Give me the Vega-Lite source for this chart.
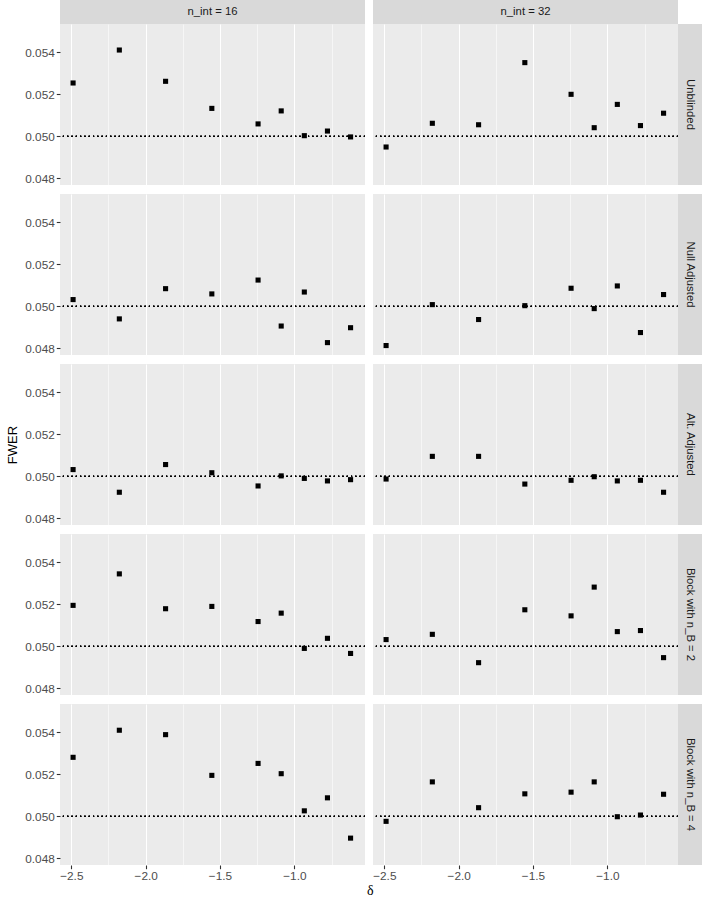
{
"$schema": "https://vega.github.io/schema/vega-lite/v6.json",
"background": "white",
"padding": {"left": 6, "top": 0, "right": 0, "bottom": 0},
"data": {"values": [
{"method":"Unblinded","n_int":16,"delta":-2.488,"fwer":0.05254},
{"method":"Unblinded","n_int":16,"delta":-2.177,"fwer":0.05411},
{"method":"Unblinded","n_int":16,"delta":-1.866,"fwer":0.05262},
{"method":"Unblinded","n_int":16,"delta":-1.555,"fwer":0.05133},
{"method":"Unblinded","n_int":16,"delta":-1.244,"fwer":0.05059},
{"method":"Unblinded","n_int":16,"delta":-1.0885,"fwer":0.05121},
{"method":"Unblinded","n_int":16,"delta":-0.933,"fwer":0.05003},
{"method":"Unblinded","n_int":16,"delta":-0.7775,"fwer":0.05025},
{"method":"Unblinded","n_int":16,"delta":-0.622,"fwer":0.04997},
{"method":"Unblinded","n_int":32,"delta":-2.488,"fwer":0.04949},
{"method":"Unblinded","n_int":32,"delta":-2.177,"fwer":0.05062},
{"method":"Unblinded","n_int":32,"delta":-1.866,"fwer":0.05055},
{"method":"Unblinded","n_int":32,"delta":-1.555,"fwer":0.05351},
{"method":"Unblinded","n_int":32,"delta":-1.244,"fwer":0.05200},
{"method":"Unblinded","n_int":32,"delta":-1.0885,"fwer":0.05041},
{"method":"Unblinded","n_int":32,"delta":-0.933,"fwer":0.05152},
{"method":"Unblinded","n_int":32,"delta":-0.7775,"fwer":0.05051},
{"method":"Unblinded","n_int":32,"delta":-0.622,"fwer":0.05110},
{"method":"Null Adjusted","n_int":16,"delta":-2.488,"fwer":0.05032},
{"method":"Null Adjusted","n_int":16,"delta":-2.177,"fwer":0.04940},
{"method":"Null Adjusted","n_int":16,"delta":-1.866,"fwer":0.05084},
{"method":"Null Adjusted","n_int":16,"delta":-1.555,"fwer":0.05059},
{"method":"Null Adjusted","n_int":16,"delta":-1.244,"fwer":0.05125},
{"method":"Null Adjusted","n_int":16,"delta":-1.0885,"fwer":0.04906},
{"method":"Null Adjusted","n_int":16,"delta":-0.933,"fwer":0.05068},
{"method":"Null Adjusted","n_int":16,"delta":-0.7775,"fwer":0.04827},
{"method":"Null Adjusted","n_int":16,"delta":-0.622,"fwer":0.04898},
{"method":"Null Adjusted","n_int":32,"delta":-2.488,"fwer":0.04813},
{"method":"Null Adjusted","n_int":32,"delta":-2.177,"fwer":0.05008},
{"method":"Null Adjusted","n_int":32,"delta":-1.866,"fwer":0.04937},
{"method":"Null Adjusted","n_int":32,"delta":-1.555,"fwer":0.05003},
{"method":"Null Adjusted","n_int":32,"delta":-1.244,"fwer":0.05086},
{"method":"Null Adjusted","n_int":32,"delta":-1.0885,"fwer":0.04989},
{"method":"Null Adjusted","n_int":32,"delta":-0.933,"fwer":0.05097},
{"method":"Null Adjusted","n_int":32,"delta":-0.7775,"fwer":0.04875},
{"method":"Null Adjusted","n_int":32,"delta":-0.622,"fwer":0.05056},
{"method":"Alt. Adjusted","n_int":16,"delta":-2.488,"fwer":0.05032},
{"method":"Alt. Adjusted","n_int":16,"delta":-2.177,"fwer":0.04924},
{"method":"Alt. Adjusted","n_int":16,"delta":-1.866,"fwer":0.05056},
{"method":"Alt. Adjusted","n_int":16,"delta":-1.555,"fwer":0.05017},
{"method":"Alt. Adjusted","n_int":16,"delta":-1.244,"fwer":0.04954},
{"method":"Alt. Adjusted","n_int":16,"delta":-1.0885,"fwer":0.05002},
{"method":"Alt. Adjusted","n_int":16,"delta":-0.933,"fwer":0.04990},
{"method":"Alt. Adjusted","n_int":16,"delta":-0.7775,"fwer":0.04978},
{"method":"Alt. Adjusted","n_int":16,"delta":-0.622,"fwer":0.04984},
{"method":"Alt. Adjusted","n_int":32,"delta":-2.488,"fwer":0.04987},
{"method":"Alt. Adjusted","n_int":32,"delta":-2.177,"fwer":0.05095},
{"method":"Alt. Adjusted","n_int":32,"delta":-1.866,"fwer":0.05095},
{"method":"Alt. Adjusted","n_int":32,"delta":-1.555,"fwer":0.04963},
{"method":"Alt. Adjusted","n_int":32,"delta":-1.244,"fwer":0.04981},
{"method":"Alt. Adjusted","n_int":32,"delta":-1.0885,"fwer":0.04998},
{"method":"Alt. Adjusted","n_int":32,"delta":-0.933,"fwer":0.04978},
{"method":"Alt. Adjusted","n_int":32,"delta":-0.7775,"fwer":0.04981},
{"method":"Alt. Adjusted","n_int":32,"delta":-0.622,"fwer":0.04924},
{"method":"Block with n_B = 2","n_int":16,"delta":-2.488,"fwer":0.05195},
{"method":"Block with n_B = 2","n_int":16,"delta":-2.177,"fwer":0.05345},
{"method":"Block with n_B = 2","n_int":16,"delta":-1.866,"fwer":0.05179},
{"method":"Block with n_B = 2","n_int":16,"delta":-1.555,"fwer":0.05190},
{"method":"Block with n_B = 2","n_int":16,"delta":-1.244,"fwer":0.05118},
{"method":"Block with n_B = 2","n_int":16,"delta":-1.0885,"fwer":0.05158},
{"method":"Block with n_B = 2","n_int":16,"delta":-0.933,"fwer":0.04990},
{"method":"Block with n_B = 2","n_int":16,"delta":-0.7775,"fwer":0.05038},
{"method":"Block with n_B = 2","n_int":16,"delta":-0.622,"fwer":0.04966},
{"method":"Block with n_B = 2","n_int":32,"delta":-2.488,"fwer":0.05032},
{"method":"Block with n_B = 2","n_int":32,"delta":-2.177,"fwer":0.05057},
{"method":"Block with n_B = 2","n_int":32,"delta":-1.866,"fwer":0.04922},
{"method":"Block with n_B = 2","n_int":32,"delta":-1.555,"fwer":0.05174},
{"method":"Block with n_B = 2","n_int":32,"delta":-1.244,"fwer":0.05145},
{"method":"Block with n_B = 2","n_int":32,"delta":-1.0885,"fwer":0.05282},
{"method":"Block with n_B = 2","n_int":32,"delta":-0.933,"fwer":0.05070},
{"method":"Block with n_B = 2","n_int":32,"delta":-0.7775,"fwer":0.05075},
{"method":"Block with n_B = 2","n_int":32,"delta":-0.622,"fwer":0.04946},
{"method":"Block with n_B = 4","n_int":16,"delta":-2.488,"fwer":0.05281},
{"method":"Block with n_B = 4","n_int":16,"delta":-2.177,"fwer":0.05410},
{"method":"Block with n_B = 4","n_int":16,"delta":-1.866,"fwer":0.05389},
{"method":"Block with n_B = 4","n_int":16,"delta":-1.555,"fwer":0.05195},
{"method":"Block with n_B = 4","n_int":16,"delta":-1.244,"fwer":0.05252},
{"method":"Block with n_B = 4","n_int":16,"delta":-1.0885,"fwer":0.05203},
{"method":"Block with n_B = 4","n_int":16,"delta":-0.933,"fwer":0.05026},
{"method":"Block with n_B = 4","n_int":16,"delta":-0.7775,"fwer":0.05088},
{"method":"Block with n_B = 4","n_int":16,"delta":-0.622,"fwer":0.04896},
{"method":"Block with n_B = 4","n_int":32,"delta":-2.488,"fwer":0.04976},
{"method":"Block with n_B = 4","n_int":32,"delta":-2.177,"fwer":0.05164},
{"method":"Block with n_B = 4","n_int":32,"delta":-1.866,"fwer":0.05041},
{"method":"Block with n_B = 4","n_int":32,"delta":-1.555,"fwer":0.05107},
{"method":"Block with n_B = 4","n_int":32,"delta":-1.244,"fwer":0.05115},
{"method":"Block with n_B = 4","n_int":32,"delta":-1.0885,"fwer":0.05164},
{"method":"Block with n_B = 4","n_int":32,"delta":-0.933,"fwer":0.04998},
{"method":"Block with n_B = 4","n_int":32,"delta":-0.7775,"fwer":0.05006},
{"method":"Block with n_B = 4","n_int":32,"delta":-0.622,"fwer":0.05105}
]},
"config": {
  "view": {"fill": "#ebebeb", "stroke": null},
  "font": "Liberation Sans",
  "axis": {"gridColor": "#ffffff", "domain": false, "tickColor": "#333333", "tickSize": 3.7, "tickWidth": 1.1, "labelColor": "#4d4d4d", "labelFont": "Liberation Sans", "labelFontSize": 11.8, "labelPadding": 2, "labelFlush": false, "labelOverlap": false, "labelBound": false, "titleFont": "Liberation Sans", "titleFontSize": 13, "titleFontWeight": "normal", "titleColor": "#000000", "titlePadding": 5}
},
"title": {"text": "δ", "orient": "bottom", "anchor": "middle", "dx": 16, "font": "Liberation Serif", "fontSize": 14, "fontWeight": "normal", "color": "#000000", "offset": 1},
"columns": 4,
"align": "each",
"bounds": "flush",
"spacing": 0,
"concat": [
  {"width": 305, "height": 24, "view": {"fill": "#d9d9d9", "stroke": null}, "data": {"values": [{"label": "n_int = 16"}]}, "mark": {"type": "text", "color": "#1a1a1a", "fontSize": 11.3, "font": "Liberation Sans"}, "encoding": {"text": {"field": "label", "type": "nominal"}}},
  {"width": 8, "height": 8.7, "view": {"fill": null, "stroke": null}, "data": {"values": []}, "mark": {"type": "text"}, "encoding": {}},
  {"width": 305, "height": 24, "view": {"fill": "#d9d9d9", "stroke": null}, "data": {"values": [{"label": "n_int = 32"}]}, "mark": {"type": "text", "color": "#1a1a1a", "fontSize": 11.3, "font": "Liberation Sans"}, "encoding": {"text": {"field": "label", "type": "nominal"}}},
  {"width": 8, "height": 8.7, "view": {"fill": null, "stroke": null}, "data": {"values": []}, "mark": {"type": "text"}, "encoding": {}},

  {"width": 305, "height": 161, "transform": [{"filter": "datum.method === 'Unblinded' && datum.n_int === 16"}],
   "layer": [
    {"mark": {"type": "rule", "color": "black", "strokeDash": [1.1, 3.2], "strokeWidth": 1}, "encoding": {"y": {"datum": 0.05, "type": "quantitative", "scale": {"domain": [0.04768, 0.05535], "nice": false, "zero": false}, "axis": {"values": [0.048, 0.049, 0.05, 0.051, 0.052, 0.053, 0.054, 0.055], "title": null, "labelExpr": "indexof([0.048,0.05,0.052,0.054], datum.value) >= 0 ? format(datum.value, '.3f') : ''", "gridWidth": {"condition": {"test": "indexof([0.048,0.05,0.052,0.054], datum.value) >= 0", "value": 1.1}, "value": 0.55}, "tickOpacity": {"condition": {"test": "indexof([0.048,0.05,0.052,0.054], datum.value) >= 0", "value": 1}, "value": 0}}}}},
    {"mark": {"type": "point", "shape": "square", "filled": true, "color": "black", "size": 26, "opacity": 1},
     "encoding": {
      "x": {"field": "delta", "type": "quantitative", "scale": {"domain": [-2.576, -0.525], "nice": false, "zero": false}, "axis": {"values": [-2.5, -2.25, -2, -1.75, -1.5, -1.25, -1, -0.75], "labels": false, "ticks": false, "title": null, "gridWidth": {"condition": {"test": "indexof([-2.5,-2,-1.5,-1], datum.value) >= 0", "value": 1.1}, "value": 0.55}}},
      "y": {"field": "fwer", "type": "quantitative", "scale": {"domain": [0.04768, 0.05535], "nice": false, "zero": false}, "axis": {"values": [0.048, 0.049, 0.05, 0.051, 0.052, 0.053, 0.054, 0.055], "title": null, "labelExpr": "indexof([0.048,0.05,0.052,0.054], datum.value) >= 0 ? format(datum.value, '.3f') : ''", "gridWidth": {"condition": {"test": "indexof([0.048,0.05,0.052,0.054], datum.value) >= 0", "value": 1.1}, "value": 0.55}, "tickOpacity": {"condition": {"test": "indexof([0.048,0.05,0.052,0.054], datum.value) >= 0", "value": 1}, "value": 0}}}
     }}
   ]},
  {"width": 8, "height": 8.7, "view": {"fill": null, "stroke": null}, "data": {"values": []}, "mark": {"type": "text"}, "encoding": {}},
  {"width": 305, "height": 161, "transform": [{"filter": "datum.method === 'Unblinded' && datum.n_int === 32"}],
   "layer": [
    {"mark": {"type": "rule", "color": "black", "strokeDash": [1.1, 3.2], "strokeWidth": 1}, "encoding": {"y": {"datum": 0.05, "type": "quantitative", "scale": {"domain": [0.04768, 0.05535], "nice": false, "zero": false}, "axis": {"values": [0.048, 0.049, 0.05, 0.051, 0.052, 0.053, 0.054, 0.055], "title": null, "labels": false, "ticks": false, "gridWidth": {"condition": {"test": "indexof([0.048,0.05,0.052,0.054], datum.value) >= 0", "value": 1.1}, "value": 0.55}}}}},
    {"mark": {"type": "point", "shape": "square", "filled": true, "color": "black", "size": 26, "opacity": 1},
     "encoding": {
      "x": {"field": "delta", "type": "quantitative", "scale": {"domain": [-2.576, -0.525], "nice": false, "zero": false}, "axis": {"values": [-2.5, -2.25, -2, -1.75, -1.5, -1.25, -1, -0.75], "labels": false, "ticks": false, "title": null, "gridWidth": {"condition": {"test": "indexof([-2.5,-2,-1.5,-1], datum.value) >= 0", "value": 1.1}, "value": 0.55}}},
      "y": {"field": "fwer", "type": "quantitative", "scale": {"domain": [0.04768, 0.05535], "nice": false, "zero": false}, "axis": {"values": [0.048, 0.049, 0.05, 0.051, 0.052, 0.053, 0.054, 0.055], "title": null, "labels": false, "ticks": false, "gridWidth": {"condition": {"test": "indexof([0.048,0.05,0.052,0.054], datum.value) >= 0", "value": 1.1}, "value": 0.55}}}
     }}
   ]},
  {"width": 24, "height": 161, "view": {"fill": "#d9d9d9", "stroke": null}, "data": {"values": [{"label": "Unblinded"}]}, "mark": {"type": "text", "angle": 90, "color": "#1a1a1a", "fontSize": 11.3, "font": "Liberation Sans"}, "encoding": {"text": {"field": "label", "type": "nominal"}}},

  {"width": 8, "height": 8.7, "view": {"fill": null, "stroke": null}, "data": {"values": []}, "mark": {"type": "text"}, "encoding": {}},
  {"width": 8, "height": 8.7, "view": {"fill": null, "stroke": null}, "data": {"values": []}, "mark": {"type": "text"}, "encoding": {}},
  {"width": 8, "height": 8.7, "view": {"fill": null, "stroke": null}, "data": {"values": []}, "mark": {"type": "text"}, "encoding": {}},
  {"width": 8, "height": 8.7, "view": {"fill": null, "stroke": null}, "data": {"values": []}, "mark": {"type": "text"}, "encoding": {}},

  {"width": 305, "height": 161, "transform": [{"filter": "datum.method === 'Null Adjusted' && datum.n_int === 16"}],
   "layer": [
    {"mark": {"type": "rule", "color": "black", "strokeDash": [1.1, 3.2], "strokeWidth": 1}, "encoding": {"y": {"datum": 0.05, "type": "quantitative", "scale": {"domain": [0.04768, 0.05535], "nice": false, "zero": false}, "axis": {"values": [0.048, 0.049, 0.05, 0.051, 0.052, 0.053, 0.054, 0.055], "title": null, "labelExpr": "indexof([0.048,0.05,0.052,0.054], datum.value) >= 0 ? format(datum.value, '.3f') : ''", "gridWidth": {"condition": {"test": "indexof([0.048,0.05,0.052,0.054], datum.value) >= 0", "value": 1.1}, "value": 0.55}, "tickOpacity": {"condition": {"test": "indexof([0.048,0.05,0.052,0.054], datum.value) >= 0", "value": 1}, "value": 0}}}}},
    {"mark": {"type": "point", "shape": "square", "filled": true, "color": "black", "size": 26, "opacity": 1},
     "encoding": {
      "x": {"field": "delta", "type": "quantitative", "scale": {"domain": [-2.576, -0.525], "nice": false, "zero": false}, "axis": {"values": [-2.5, -2.25, -2, -1.75, -1.5, -1.25, -1, -0.75], "labels": false, "ticks": false, "title": null, "gridWidth": {"condition": {"test": "indexof([-2.5,-2,-1.5,-1], datum.value) >= 0", "value": 1.1}, "value": 0.55}}},
      "y": {"field": "fwer", "type": "quantitative", "scale": {"domain": [0.04768, 0.05535], "nice": false, "zero": false}, "axis": {"values": [0.048, 0.049, 0.05, 0.051, 0.052, 0.053, 0.054, 0.055], "title": null, "labelExpr": "indexof([0.048,0.05,0.052,0.054], datum.value) >= 0 ? format(datum.value, '.3f') : ''", "gridWidth": {"condition": {"test": "indexof([0.048,0.05,0.052,0.054], datum.value) >= 0", "value": 1.1}, "value": 0.55}, "tickOpacity": {"condition": {"test": "indexof([0.048,0.05,0.052,0.054], datum.value) >= 0", "value": 1}, "value": 0}}}
     }}
   ]},
  {"width": 8, "height": 8.7, "view": {"fill": null, "stroke": null}, "data": {"values": []}, "mark": {"type": "text"}, "encoding": {}},
  {"width": 305, "height": 161, "transform": [{"filter": "datum.method === 'Null Adjusted' && datum.n_int === 32"}],
   "layer": [
    {"mark": {"type": "rule", "color": "black", "strokeDash": [1.1, 3.2], "strokeWidth": 1}, "encoding": {"y": {"datum": 0.05, "type": "quantitative", "scale": {"domain": [0.04768, 0.05535], "nice": false, "zero": false}, "axis": {"values": [0.048, 0.049, 0.05, 0.051, 0.052, 0.053, 0.054, 0.055], "title": null, "labels": false, "ticks": false, "gridWidth": {"condition": {"test": "indexof([0.048,0.05,0.052,0.054], datum.value) >= 0", "value": 1.1}, "value": 0.55}}}}},
    {"mark": {"type": "point", "shape": "square", "filled": true, "color": "black", "size": 26, "opacity": 1},
     "encoding": {
      "x": {"field": "delta", "type": "quantitative", "scale": {"domain": [-2.576, -0.525], "nice": false, "zero": false}, "axis": {"values": [-2.5, -2.25, -2, -1.75, -1.5, -1.25, -1, -0.75], "labels": false, "ticks": false, "title": null, "gridWidth": {"condition": {"test": "indexof([-2.5,-2,-1.5,-1], datum.value) >= 0", "value": 1.1}, "value": 0.55}}},
      "y": {"field": "fwer", "type": "quantitative", "scale": {"domain": [0.04768, 0.05535], "nice": false, "zero": false}, "axis": {"values": [0.048, 0.049, 0.05, 0.051, 0.052, 0.053, 0.054, 0.055], "title": null, "labels": false, "ticks": false, "gridWidth": {"condition": {"test": "indexof([0.048,0.05,0.052,0.054], datum.value) >= 0", "value": 1.1}, "value": 0.55}}}
     }}
   ]},
  {"width": 24, "height": 161, "view": {"fill": "#d9d9d9", "stroke": null}, "data": {"values": [{"label": "Null Adjusted"}]}, "mark": {"type": "text", "angle": 90, "color": "#1a1a1a", "fontSize": 11.3, "font": "Liberation Sans"}, "encoding": {"text": {"field": "label", "type": "nominal"}}},

  {"width": 8, "height": 8.7, "view": {"fill": null, "stroke": null}, "data": {"values": []}, "mark": {"type": "text"}, "encoding": {}},
  {"width": 8, "height": 8.7, "view": {"fill": null, "stroke": null}, "data": {"values": []}, "mark": {"type": "text"}, "encoding": {}},
  {"width": 8, "height": 8.7, "view": {"fill": null, "stroke": null}, "data": {"values": []}, "mark": {"type": "text"}, "encoding": {}},
  {"width": 8, "height": 8.7, "view": {"fill": null, "stroke": null}, "data": {"values": []}, "mark": {"type": "text"}, "encoding": {}},

  {"width": 305, "height": 161, "transform": [{"filter": "datum.method === 'Alt. Adjusted' && datum.n_int === 16"}],
   "layer": [
    {"mark": {"type": "rule", "color": "black", "strokeDash": [1.1, 3.2], "strokeWidth": 1}, "encoding": {"y": {"datum": 0.05, "type": "quantitative", "scale": {"domain": [0.04768, 0.05535], "nice": false, "zero": false}, "axis": {"values": [0.048, 0.049, 0.05, 0.051, 0.052, 0.053, 0.054, 0.055], "title": "FWER", "labelExpr": "indexof([0.048,0.05,0.052,0.054], datum.value) >= 0 ? format(datum.value, '.3f') : ''", "gridWidth": {"condition": {"test": "indexof([0.048,0.05,0.052,0.054], datum.value) >= 0", "value": 1.1}, "value": 0.55}, "tickOpacity": {"condition": {"test": "indexof([0.048,0.05,0.052,0.054], datum.value) >= 0", "value": 1}, "value": 0}}}}},
    {"mark": {"type": "point", "shape": "square", "filled": true, "color": "black", "size": 26, "opacity": 1},
     "encoding": {
      "x": {"field": "delta", "type": "quantitative", "scale": {"domain": [-2.576, -0.525], "nice": false, "zero": false}, "axis": {"values": [-2.5, -2.25, -2, -1.75, -1.5, -1.25, -1, -0.75], "labels": false, "ticks": false, "title": null, "gridWidth": {"condition": {"test": "indexof([-2.5,-2,-1.5,-1], datum.value) >= 0", "value": 1.1}, "value": 0.55}}},
      "y": {"field": "fwer", "type": "quantitative", "scale": {"domain": [0.04768, 0.05535], "nice": false, "zero": false}, "axis": {"values": [0.048, 0.049, 0.05, 0.051, 0.052, 0.053, 0.054, 0.055], "title": "FWER", "labelExpr": "indexof([0.048,0.05,0.052,0.054], datum.value) >= 0 ? format(datum.value, '.3f') : ''", "gridWidth": {"condition": {"test": "indexof([0.048,0.05,0.052,0.054], datum.value) >= 0", "value": 1.1}, "value": 0.55}, "tickOpacity": {"condition": {"test": "indexof([0.048,0.05,0.052,0.054], datum.value) >= 0", "value": 1}, "value": 0}}}
     }}
   ]},
  {"width": 8, "height": 8.7, "view": {"fill": null, "stroke": null}, "data": {"values": []}, "mark": {"type": "text"}, "encoding": {}},
  {"width": 305, "height": 161, "transform": [{"filter": "datum.method === 'Alt. Adjusted' && datum.n_int === 32"}],
   "layer": [
    {"mark": {"type": "rule", "color": "black", "strokeDash": [1.1, 3.2], "strokeWidth": 1}, "encoding": {"y": {"datum": 0.05, "type": "quantitative", "scale": {"domain": [0.04768, 0.05535], "nice": false, "zero": false}, "axis": {"values": [0.048, 0.049, 0.05, 0.051, 0.052, 0.053, 0.054, 0.055], "title": null, "labels": false, "ticks": false, "gridWidth": {"condition": {"test": "indexof([0.048,0.05,0.052,0.054], datum.value) >= 0", "value": 1.1}, "value": 0.55}}}}},
    {"mark": {"type": "point", "shape": "square", "filled": true, "color": "black", "size": 26, "opacity": 1},
     "encoding": {
      "x": {"field": "delta", "type": "quantitative", "scale": {"domain": [-2.576, -0.525], "nice": false, "zero": false}, "axis": {"values": [-2.5, -2.25, -2, -1.75, -1.5, -1.25, -1, -0.75], "labels": false, "ticks": false, "title": null, "gridWidth": {"condition": {"test": "indexof([-2.5,-2,-1.5,-1], datum.value) >= 0", "value": 1.1}, "value": 0.55}}},
      "y": {"field": "fwer", "type": "quantitative", "scale": {"domain": [0.04768, 0.05535], "nice": false, "zero": false}, "axis": {"values": [0.048, 0.049, 0.05, 0.051, 0.052, 0.053, 0.054, 0.055], "title": null, "labels": false, "ticks": false, "gridWidth": {"condition": {"test": "indexof([0.048,0.05,0.052,0.054], datum.value) >= 0", "value": 1.1}, "value": 0.55}}}
     }}
   ]},
  {"width": 24, "height": 161, "view": {"fill": "#d9d9d9", "stroke": null}, "data": {"values": [{"label": "Alt. Adjusted"}]}, "mark": {"type": "text", "angle": 90, "color": "#1a1a1a", "fontSize": 11.3, "font": "Liberation Sans"}, "encoding": {"text": {"field": "label", "type": "nominal"}}},

  {"width": 8, "height": 8.7, "view": {"fill": null, "stroke": null}, "data": {"values": []}, "mark": {"type": "text"}, "encoding": {}},
  {"width": 8, "height": 8.7, "view": {"fill": null, "stroke": null}, "data": {"values": []}, "mark": {"type": "text"}, "encoding": {}},
  {"width": 8, "height": 8.7, "view": {"fill": null, "stroke": null}, "data": {"values": []}, "mark": {"type": "text"}, "encoding": {}},
  {"width": 8, "height": 8.7, "view": {"fill": null, "stroke": null}, "data": {"values": []}, "mark": {"type": "text"}, "encoding": {}},

  {"width": 305, "height": 161, "transform": [{"filter": "datum.method === 'Block with n_B = 2' && datum.n_int === 16"}],
   "layer": [
    {"mark": {"type": "rule", "color": "black", "strokeDash": [1.1, 3.2], "strokeWidth": 1}, "encoding": {"y": {"datum": 0.05, "type": "quantitative", "scale": {"domain": [0.04768, 0.05535], "nice": false, "zero": false}, "axis": {"values": [0.048, 0.049, 0.05, 0.051, 0.052, 0.053, 0.054, 0.055], "title": null, "labelExpr": "indexof([0.048,0.05,0.052,0.054], datum.value) >= 0 ? format(datum.value, '.3f') : ''", "gridWidth": {"condition": {"test": "indexof([0.048,0.05,0.052,0.054], datum.value) >= 0", "value": 1.1}, "value": 0.55}, "tickOpacity": {"condition": {"test": "indexof([0.048,0.05,0.052,0.054], datum.value) >= 0", "value": 1}, "value": 0}}}}},
    {"mark": {"type": "point", "shape": "square", "filled": true, "color": "black", "size": 26, "opacity": 1},
     "encoding": {
      "x": {"field": "delta", "type": "quantitative", "scale": {"domain": [-2.576, -0.525], "nice": false, "zero": false}, "axis": {"values": [-2.5, -2.25, -2, -1.75, -1.5, -1.25, -1, -0.75], "labels": false, "ticks": false, "title": null, "gridWidth": {"condition": {"test": "indexof([-2.5,-2,-1.5,-1], datum.value) >= 0", "value": 1.1}, "value": 0.55}}},
      "y": {"field": "fwer", "type": "quantitative", "scale": {"domain": [0.04768, 0.05535], "nice": false, "zero": false}, "axis": {"values": [0.048, 0.049, 0.05, 0.051, 0.052, 0.053, 0.054, 0.055], "title": null, "labelExpr": "indexof([0.048,0.05,0.052,0.054], datum.value) >= 0 ? format(datum.value, '.3f') : ''", "gridWidth": {"condition": {"test": "indexof([0.048,0.05,0.052,0.054], datum.value) >= 0", "value": 1.1}, "value": 0.55}, "tickOpacity": {"condition": {"test": "indexof([0.048,0.05,0.052,0.054], datum.value) >= 0", "value": 1}, "value": 0}}}
     }}
   ]},
  {"width": 8, "height": 8.7, "view": {"fill": null, "stroke": null}, "data": {"values": []}, "mark": {"type": "text"}, "encoding": {}},
  {"width": 305, "height": 161, "transform": [{"filter": "datum.method === 'Block with n_B = 2' && datum.n_int === 32"}],
   "layer": [
    {"mark": {"type": "rule", "color": "black", "strokeDash": [1.1, 3.2], "strokeWidth": 1}, "encoding": {"y": {"datum": 0.05, "type": "quantitative", "scale": {"domain": [0.04768, 0.05535], "nice": false, "zero": false}, "axis": {"values": [0.048, 0.049, 0.05, 0.051, 0.052, 0.053, 0.054, 0.055], "title": null, "labels": false, "ticks": false, "gridWidth": {"condition": {"test": "indexof([0.048,0.05,0.052,0.054], datum.value) >= 0", "value": 1.1}, "value": 0.55}}}}},
    {"mark": {"type": "point", "shape": "square", "filled": true, "color": "black", "size": 26, "opacity": 1},
     "encoding": {
      "x": {"field": "delta", "type": "quantitative", "scale": {"domain": [-2.576, -0.525], "nice": false, "zero": false}, "axis": {"values": [-2.5, -2.25, -2, -1.75, -1.5, -1.25, -1, -0.75], "labels": false, "ticks": false, "title": null, "gridWidth": {"condition": {"test": "indexof([-2.5,-2,-1.5,-1], datum.value) >= 0", "value": 1.1}, "value": 0.55}}},
      "y": {"field": "fwer", "type": "quantitative", "scale": {"domain": [0.04768, 0.05535], "nice": false, "zero": false}, "axis": {"values": [0.048, 0.049, 0.05, 0.051, 0.052, 0.053, 0.054, 0.055], "title": null, "labels": false, "ticks": false, "gridWidth": {"condition": {"test": "indexof([0.048,0.05,0.052,0.054], datum.value) >= 0", "value": 1.1}, "value": 0.55}}}
     }}
   ]},
  {"width": 24, "height": 161, "view": {"fill": "#d9d9d9", "stroke": null}, "data": {"values": [{"label": "Block with n_B = 2"}]}, "mark": {"type": "text", "angle": 90, "color": "#1a1a1a", "fontSize": 11.3, "font": "Liberation Sans"}, "encoding": {"text": {"field": "label", "type": "nominal"}}},

  {"width": 8, "height": 8.7, "view": {"fill": null, "stroke": null}, "data": {"values": []}, "mark": {"type": "text"}, "encoding": {}},
  {"width": 8, "height": 8.7, "view": {"fill": null, "stroke": null}, "data": {"values": []}, "mark": {"type": "text"}, "encoding": {}},
  {"width": 8, "height": 8.7, "view": {"fill": null, "stroke": null}, "data": {"values": []}, "mark": {"type": "text"}, "encoding": {}},
  {"width": 8, "height": 8.7, "view": {"fill": null, "stroke": null}, "data": {"values": []}, "mark": {"type": "text"}, "encoding": {}},

  {"width": 305, "height": 161, "transform": [{"filter": "datum.method === 'Block with n_B = 4' && datum.n_int === 16"}],
   "layer": [
    {"mark": {"type": "rule", "color": "black", "strokeDash": [1.1, 3.2], "strokeWidth": 1}, "encoding": {"y": {"datum": 0.05, "type": "quantitative", "scale": {"domain": [0.04768, 0.05535], "nice": false, "zero": false}, "axis": {"values": [0.048, 0.049, 0.05, 0.051, 0.052, 0.053, 0.054, 0.055], "title": null, "labelExpr": "indexof([0.048,0.05,0.052,0.054], datum.value) >= 0 ? format(datum.value, '.3f') : ''", "gridWidth": {"condition": {"test": "indexof([0.048,0.05,0.052,0.054], datum.value) >= 0", "value": 1.1}, "value": 0.55}, "tickOpacity": {"condition": {"test": "indexof([0.048,0.05,0.052,0.054], datum.value) >= 0", "value": 1}, "value": 0}}}}},
    {"mark": {"type": "point", "shape": "square", "filled": true, "color": "black", "size": 26, "opacity": 1},
     "encoding": {
      "x": {"field": "delta", "type": "quantitative", "scale": {"domain": [-2.576, -0.525], "nice": false, "zero": false}, "axis": {"values": [-2.5, -2.25, -2, -1.75, -1.5, -1.25, -1, -0.75], "title": null, "labelExpr": "indexof([-2.5,-2,-1.5,-1], datum.value) >= 0 ? format(datum.value, '.1f') : ''", "gridWidth": {"condition": {"test": "indexof([-2.5,-2,-1.5,-1], datum.value) >= 0", "value": 1.1}, "value": 0.55}, "tickOpacity": {"condition": {"test": "indexof([-2.5,-2,-1.5,-1], datum.value) >= 0", "value": 1}, "value": 0}}},
      "y": {"field": "fwer", "type": "quantitative", "scale": {"domain": [0.04768, 0.05535], "nice": false, "zero": false}, "axis": {"values": [0.048, 0.049, 0.05, 0.051, 0.052, 0.053, 0.054, 0.055], "title": null, "labelExpr": "indexof([0.048,0.05,0.052,0.054], datum.value) >= 0 ? format(datum.value, '.3f') : ''", "gridWidth": {"condition": {"test": "indexof([0.048,0.05,0.052,0.054], datum.value) >= 0", "value": 1.1}, "value": 0.55}, "tickOpacity": {"condition": {"test": "indexof([0.048,0.05,0.052,0.054], datum.value) >= 0", "value": 1}, "value": 0}}}
     }}
   ]},
  {"width": 8, "height": 8.7, "view": {"fill": null, "stroke": null}, "data": {"values": []}, "mark": {"type": "text"}, "encoding": {}},
  {"width": 305, "height": 161, "transform": [{"filter": "datum.method === 'Block with n_B = 4' && datum.n_int === 32"}],
   "layer": [
    {"mark": {"type": "rule", "color": "black", "strokeDash": [1.1, 3.2], "strokeWidth": 1}, "encoding": {"y": {"datum": 0.05, "type": "quantitative", "scale": {"domain": [0.04768, 0.05535], "nice": false, "zero": false}, "axis": {"values": [0.048, 0.049, 0.05, 0.051, 0.052, 0.053, 0.054, 0.055], "title": null, "labels": false, "ticks": false, "gridWidth": {"condition": {"test": "indexof([0.048,0.05,0.052,0.054], datum.value) >= 0", "value": 1.1}, "value": 0.55}}}}},
    {"mark": {"type": "point", "shape": "square", "filled": true, "color": "black", "size": 26, "opacity": 1},
     "encoding": {
      "x": {"field": "delta", "type": "quantitative", "scale": {"domain": [-2.576, -0.525], "nice": false, "zero": false}, "axis": {"values": [-2.5, -2.25, -2, -1.75, -1.5, -1.25, -1, -0.75], "title": null, "labelExpr": "indexof([-2.5,-2,-1.5,-1], datum.value) >= 0 ? format(datum.value, '.1f') : ''", "gridWidth": {"condition": {"test": "indexof([-2.5,-2,-1.5,-1], datum.value) >= 0", "value": 1.1}, "value": 0.55}, "tickOpacity": {"condition": {"test": "indexof([-2.5,-2,-1.5,-1], datum.value) >= 0", "value": 1}, "value": 0}}},
      "y": {"field": "fwer", "type": "quantitative", "scale": {"domain": [0.04768, 0.05535], "nice": false, "zero": false}, "axis": {"values": [0.048, 0.049, 0.05, 0.051, 0.052, 0.053, 0.054, 0.055], "title": null, "labels": false, "ticks": false, "gridWidth": {"condition": {"test": "indexof([0.048,0.05,0.052,0.054], datum.value) >= 0", "value": 1.1}, "value": 0.55}}}
     }}
   ]},
  {"width": 24, "height": 161, "view": {"fill": "#d9d9d9", "stroke": null}, "data": {"values": [{"label": "Block with n_B = 4"}]}, "mark": {"type": "text", "angle": 90, "color": "#1a1a1a", "fontSize": 11.3, "font": "Liberation Sans"}, "encoding": {"text": {"field": "label", "type": "nominal"}}}
]
}
